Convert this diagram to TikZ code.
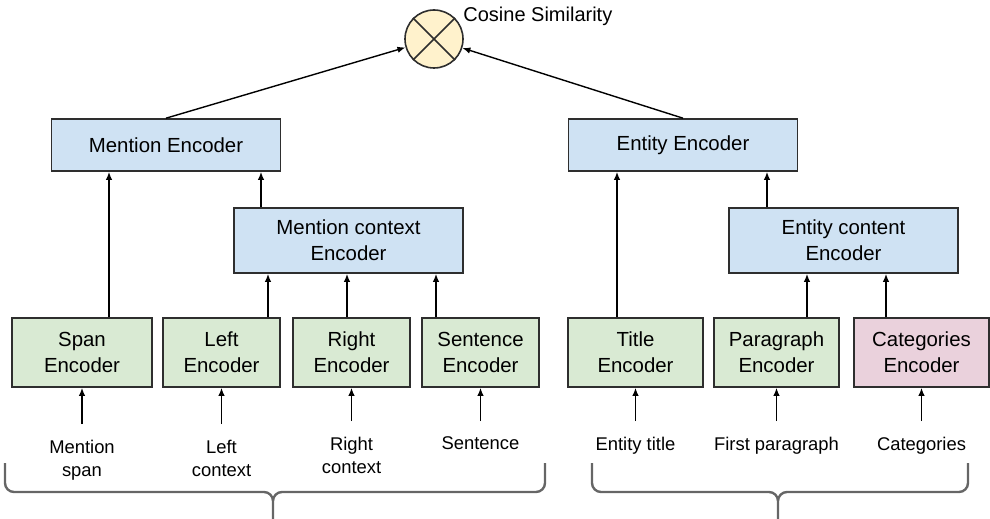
\documentclass[tikz,border=0pt]{standalone}
\usepackage{fontspec}
\setmainfont{Liberation Sans}
\usetikzlibrary{arrows.meta}
\definecolor{encblue}{HTML}{CFE2F3}
\definecolor{encgreen}{HTML}{D9EAD3}
\definecolor{encpink}{HTML}{EAD1DC}
\definecolor{simyellow}{HTML}{FFF2CC}
\definecolor{edgegray}{HTML}{2E2E2E}
\definecolor{bracegray}{HTML}{666666}

\begin{document}
\begin{tikzpicture}[x=0.5pt, y=-0.5pt,
        enc/.style = {draw=edgegray, line width=0.8pt, inner sep=0pt, align=center,
                      font=\fontsize{10.2}{13}\selectfont},
        upper/.style = {enc, fill=encblue, minimum width=114.5pt, minimum height=26pt},
        ctx/.style = {enc, fill=encblue, minimum width=114.5pt, minimum height=32.5pt},
        lower/.style = {enc, fill=encgreen, minimum height=34.5pt},
        inlabel/.style = {anchor=north, inner sep=0pt, outer ysep=8pt, align=center,
                          font=\fontsize{9.2}{11.5}\selectfont},
        arr/.style = {-{Latex[length=4pt, width=3.2pt]}, line width=0.7pt},
        brace/.style = {draw=bracegray, line width=1.2pt, rounded corners=4.5pt}
    ]
    \useasboundingbox (0,0) rectangle (990,519);

    % similarity
    \node [circle, draw=edgegray, fill=simyellow, line width=0.8pt,
           minimum size=29pt, inner sep=0pt] (cos) at (434,39) {};
    \draw [line width=0.8pt, edgegray]
        (cos.north west) -- (cos.south east)
        (cos.north east) -- (cos.south west);
    \node [anchor=west, inner sep=0pt, font=\fontsize{10}{12}\selectfont]
        (cosl) at (463,16) {Cosine Similarity};

    % mention side
    \node [upper] (ment) at (166,145) {Mention Encoder};
    \node [ctx] (mctx) at (348.5,240.5) {Mention context\\Encoder};
    \node [lower, minimum width=70pt] (span) at (82,352.5) {Span\\Encoder};
    \node [lower, minimum width=58.5pt] (left) at (221.5,352.5) {Left\\Encoder};
    \node [lower, minimum width=58.5pt] (right) at (351.5,352.5) {Right\\Encoder};
    \node [lower, minimum width=58.5pt] (sent) at (480.5,352.5) {Sentence\\Encoder};

    \node [inlabel] (lspan) at (82,424) {Mention\\span};
    \node [inlabel] (lleft) at (221.5,424) {Left\\context};
    \node [inlabel] (lright) at (351.5,421) {Right\\context};
    \node [inlabel] (lsent) at (480.5,421) {Sentence};

    % entity side
    \node [upper] (ent) at (683,145) {Entity Encoder};
    \node [ctx] (ectx) at (843.5,240.5) {Entity content\\Encoder};
    \node [lower, minimum width=67.5pt] (title) at (635.5,352.5) {Title\\Encoder};
    \node [lower, minimum width=62.5pt] (para) at (776.5,352.5) {Paragraph\\Encoder};
    \node [lower, minimum width=67.5pt, fill=encpink] (cat) at (921.5,352.5) {Categories\\Encoder};

    \node [inlabel] (ltitle) at (635.5,421) {Entity title};
    \node [inlabel] (lpara) at (776.5,421) {First paragraph};
    \node [inlabel] (lcat) at (921.5,421) {Categories};

    % inputs
    \foreach \lbl/\enc in {lspan/span, lleft/left, lright/right, lsent/sent,
                           ltitle/title, lpara/para, lcat/cat}
        \draw [arr] (\lbl.north) -- (\enc.south);

    % encoders up
    \draw [arr] ([xshift=13.5pt]span.north) coordinate (spanUp) -- (spanUp |- ment.south);
    \draw [arr] ([xshift=-43.75pt]mctx.north) coordinate (mctxUp) -- (mctxUp |- ment.south);
    \draw [arr] ([xshift=23.25pt]left.north) coordinate (leftUp) -- (leftUp |- mctx.south);
    \draw [arr] ([xshift=-2.25pt]right.north) coordinate (rightUp) -- (rightUp |- mctx.south);
    \draw [arr] ([xshift=-22.25pt]sent.north) coordinate (sentUp) -- (sentUp |- mctx.south);
    \draw [arr] ([xshift=-9.25pt]title.north) coordinate (titleUp) -- (titleUp |- ent.south);
    \draw [arr] ([xshift=-38.25pt]ectx.north) coordinate (ectxUp) -- (ectxUp |- ent.south);
    \draw [arr] ([xshift=15.25pt]para.north) coordinate (paraUp) -- (paraUp |- ectx.south);
    \draw [arr] ([xshift=-17.75pt]cat.north) coordinate (catUp) -- (catUp |- ectx.south);

    \draw [arr] (ment.north) -- (cos);
    \draw [arr] (ent.north) -- (cos);

    % braces
    \draw [brace]
        (5,463) coordinate (mL)
        (545,463) coordinate (mR)
        (273,492) coordinate (mB)
        (273,519) coordinate (mT)
        (mL) -- (mL |- mB) -- (mB) -- (mT)
        (mR) -- (mR |- mB) -- (mB) -- (mT);
    \draw [brace]
        (592,463) coordinate (eL)
        (968,463) coordinate (eR)
        (778,492) coordinate (eB)
        (778,519) coordinate (eT)
        (eL) -- (eL |- eB) -- (eB) -- (eT)
        (eR) -- (eR |- eB) -- (eB) -- (eT);
\end{tikzpicture}
\end{document}
